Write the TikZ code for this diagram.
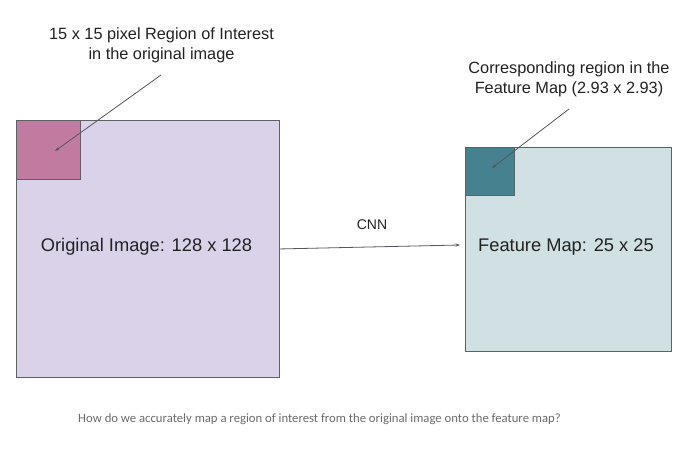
\documentclass[tikz,border=0pt]{standalone}
\usepackage{fontspec}
\setmainfont{Liberation Sans}
\newfontfamily\capfont{Carlito}
\usetikzlibrary{arrows.meta}
\definecolor{lav}{HTML}{D9D2E9}
\definecolor{roi}{HTML}{C27BA0}
\definecolor{fmap}{HTML}{D0E0E3}
\definecolor{froi}{HTML}{45818E}
\definecolor{edge}{HTML}{5F5F66}
\definecolor{txt}{HTML}{222222}
\definecolor{captxt}{HTML}{6B6B6B}
\tikzset{
  bigbox/.style={draw=edge, line width=0.9pt, inner sep=0pt, anchor=north west, text=txt,
    font=\fontsize{18.3}{22}\selectfont},
  roibox/.style={draw=edge, line width=0.9pt, inner sep=0pt, anchor=north west},
  lbl/.style={anchor=base, inner sep=0pt, text=txt, font=\fontsize{16.3}{19.5}\selectfont},
  ptr/.style={draw=edge!90!black, line width=0.8pt, -{Stealth[length=4.5pt,width=3.2pt]}},
}
\begin{document}
\begin{tikzpicture}[x=1pt,y=-1pt]
\useasboundingbox (0,0) rectangle (690,449);
% left image
\node[bigbox, fill=lav, minimum width=263pt, minimum height=257pt] (orig) at (16,120) {};
\node[anchor=center, inner sep=0pt, text=txt, font=\fontsize{18.3}{22}\selectfont] (origlbl) at (146.5,247) {Original Image: 128 x 128};
\node[roibox, fill=roi, minimum width=64pt, minimum height=59pt] (roi) at (16,120) {};
% right feature map
\node[bigbox, fill=fmap, minimum width=206pt, minimum height=204pt] (fm) at (465,147) {};
\node[anchor=center, inner sep=0pt, text=txt, font=\fontsize{18.3}{22}\selectfont] (fmlbl) at (566,247) {Feature Map: 25 x 25};
\node[roibox, fill=froi, minimum width=49pt, minimum height=48pt] (froi) at (465,147) {};
% labels
\node[lbl] (l1a) at (161.5,40) {15 x 15 pixel Region of Interest};
\node[lbl] (l1b) at (161.5,59.5) {in the original image};
\node[lbl] (l2a) at (569,74) {Corresponding region in the};
\node[lbl] (l2b) at (569,94) {Feature Map (2.93 x 2.93)};
\coordinate (p1s) at (161,75);
\coordinate (p1e) at (55,151);
\coordinate (p2s) at (569,109);
\coordinate (p2e) at (492,168);
\draw[ptr] (p1s) -- (p1e);
\draw[ptr] (p2s) -- (p2e);
% CNN arrow
\coordinate (cnnend) at (460,245);
\draw[ptr] (orig.east) -- (cnnend);
\node[anchor=base, inner sep=0pt, text=txt, font=\fontsize{14}{16}\selectfont] (cnn) at (372,229) {CNN};
% caption
\node[anchor=base, inner sep=0pt, text=captxt, font=\capfont\fontsize{12.7}{15}\selectfont] (cap) at (319.5,422) {How do we accurately map a region of interest from the original image onto the feature map?};
\end{tikzpicture}
\end{document}
